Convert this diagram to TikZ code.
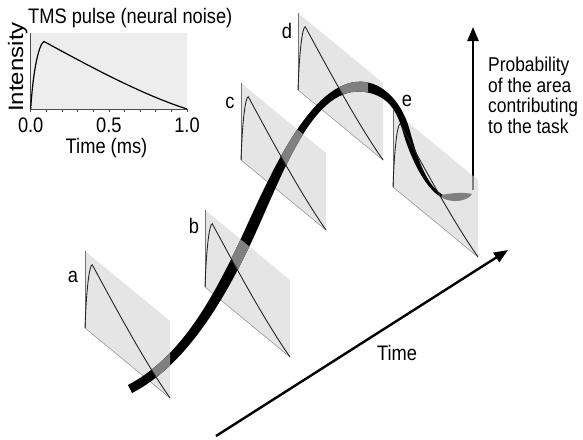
\documentclass[tikz,border=0pt]{standalone}
\usepackage{fontspec}
\setmainfont{Liberation Sans}
\usepackage{graphicx}
\usetikzlibrary{arrows.meta}

% narrow lettering of the original
\newcommand\narrow[1]{\scalebox{0.87}[1]{#1}}
% outline of the probability ribbon
\def\ribbonpath{(127.9,385.0) .. controls (179.9,358.0) and (213.0,299.7) .. (245.0,229.7)
  .. controls (275.0,163.7) and (315.7,75.05) .. (365.7,82.05)
  .. controls (385.7,85.05) and (402.4,104.1) .. (409.4,129.1)
  .. controls (415.7,151.6) and (424.7,184.7) .. (442.7,194.7)
  -- (441.3,197.3)
  .. controls (423.3,187.3) and (408.9,153.4) .. (402.6,130.9)
  .. controls (395.6,105.9) and (384.3,94.95) .. (364.3,91.95)
  .. controls (314.3,84.95) and (285.0,168.3) .. (255.0,234.3)
  .. controls (223.0,304.3) and (184.1,366.0) .. (132.1,393.0) -- cycle}

\begin{document}
\begin{tikzpicture}[
    x=1pt, y=-1pt,
    font=\fontsize{21}{21}\selectfont,
    lbl/.style={inner sep=0pt},
    axisarrow/.style={-{Triangle[length=14pt, width=11pt]}, line width=2.4pt},
]

% --- Style definitions ---
\tikzset{
    panelfill/.style = {fill=black!17, fill opacity=0.6},
    paneledge/.style = {draw=black!55, line width=0.7pt},
    panelbase/.style = {draw=black!40, line width=0.6pt},
    pulseline/.style = {draw=black!85, line width=0.9pt, line join=round},
    ribbon/.style = {fill=black},
    ribbonback/.style = {fill=black!50},
    insetbg/.style = {fill=black!7},
    insetaxis/.style = {draw=black!70, line width=0.7pt},
}

\useasboundingbox (0,0) rectangle (583,439);

% --- Probability axis (shows through panel e) ---
\coordinate (probbot) at (473,190);
\coordinate (probtop) at (473,27);
\draw [axisarrow] (probbot) -- (probtop);

% --- Panels a-e ---
\foreach \n/\px/\py in {a/85/328, b/205/287, c/241/160, d/298/90, e/393/187} {
  \begin{scope}[x={(85pt,-70pt)}, y={(0pt,77pt)}, shift={(\px pt,-\py pt)}]
    \coordinate (\n-bl) at (0,0);
    \coordinate (\n-br) at (1,0);
    \coordinate (\n-tr) at (1,1);
    \coordinate (\n-tl) at (0,1);
    \coordinate (\n-p1) at (0.015,0.5);
    \coordinate (\n-p2) at (0.05,0.86);
    \coordinate (\n-pk) at (0.085,0.9);
    \coordinate (\n-p3) at (0.35,0.6);
    \coordinate (\n-p4) at (0.7,0.2);
    \fill [panelfill] (\n-bl) -- (\n-br) -- (\n-tr) -- (\n-tl) -- cycle;
    \draw [panelbase] (\n-bl) -- (\n-br);
    \draw [paneledge] (\n-bl) -- (\n-tl);
  \end{scope}
}

% --- Ribbon ---
\fill [ribbon] \ribbonpath;
\foreach \n/\xcut in {a/600, b/600, c/600, d/368} {
  \begin{scope}
    \clip (0,0) rectangle (\xcut,439);
    \clip (\n-tl) -- (\n-tr) -- (\n-br) .. controls (\n-p4) and (\n-p3) .. (\n-pk)
      .. controls (\n-p2) and (\n-p1) .. (\n-bl) -- cycle;
    \fill [ribbonback] \ribbonpath;
  \end{scope}
}
\fill [ribbonback] (442.7,194.7) .. controls (452,193) and (464,192) .. (472,194)
  .. controls (468,201) and (452,204) .. (441.3,197.3) -- cycle;

% --- Pulses and labels ---
\foreach \n/\lx/\ly in {a/73/277, b/194/226, c/230/103, d/287/31, e/407/101} {
  \draw [pulseline] (\n-bl) .. controls (\n-p1) and (\n-p2) .. (\n-pk)
    .. controls (\n-p3) and (\n-p4) .. (\n-br);
  \node [lbl] (lbl-\n) at (\lx,\ly) {\narrow{\n}};
}

% --- Time axis ---
\coordinate (timestart) at (216,436);
\coordinate (timeend) at (508,250);
\draw [axisarrow] (timestart) -- (timeend);
\node [lbl] (timelbl) at (397,352.5) {\narrow{Time}};

\node [lbl, anchor=north west, align=left, font=\fontsize{20}{20.5}\selectfont] (problbl) at (488,57)
  {\narrow{Probability}\\\narrow{of the area}\\\narrow{contributing}\\\narrow{to the task}};

% --- Inset: TMS pulse ---
\node [lbl, anchor=base west] (insettitle) at (28,23) {\narrow{TMS pulse (neural noise)}};
\node [lbl, rotate=90, anchor=base, font=\fontsize{24}{24}\selectfont] (insety) at (23,67)
  {\scalebox{1}[0.87]{Intensity}};
\begin{scope}[x={(156.3pt,0pt)}, y={(0pt,75pt)}, shift={(30.7pt,-109pt)}]
  \fill [insetbg] (0,0) rectangle (1,1.01);
  \draw [insetaxis] (0,1.01) -- (0,0) -- (1,0);
  \foreach \t in {0,0.1,...,1.05}
    \draw [insetaxis] (\t,0) -- (\t,-0.045);
  \draw [line width=1.2pt, line join=round] (0,0) .. controls (0.015,0.5) and (0.05,0.86) .. (0.085,0.9)
    .. controls (0.35,0.6) and (0.7,0.2) .. (1,0);
  \node [lbl, anchor=base] (tick0) at (0,-0.31) {\narrow{0.0}};
  \node [lbl, anchor=base] (tick5) at (0.5,-0.31) {\narrow{0.5}};
  \node [lbl, anchor=base] (tick10) at (1,-0.31) {\narrow{1.0}};
  \node [lbl, anchor=base] (insetx) at (0.485,-0.59) {\narrow{Time (ms)}};
\end{scope}

\end{tikzpicture}
\end{document}
